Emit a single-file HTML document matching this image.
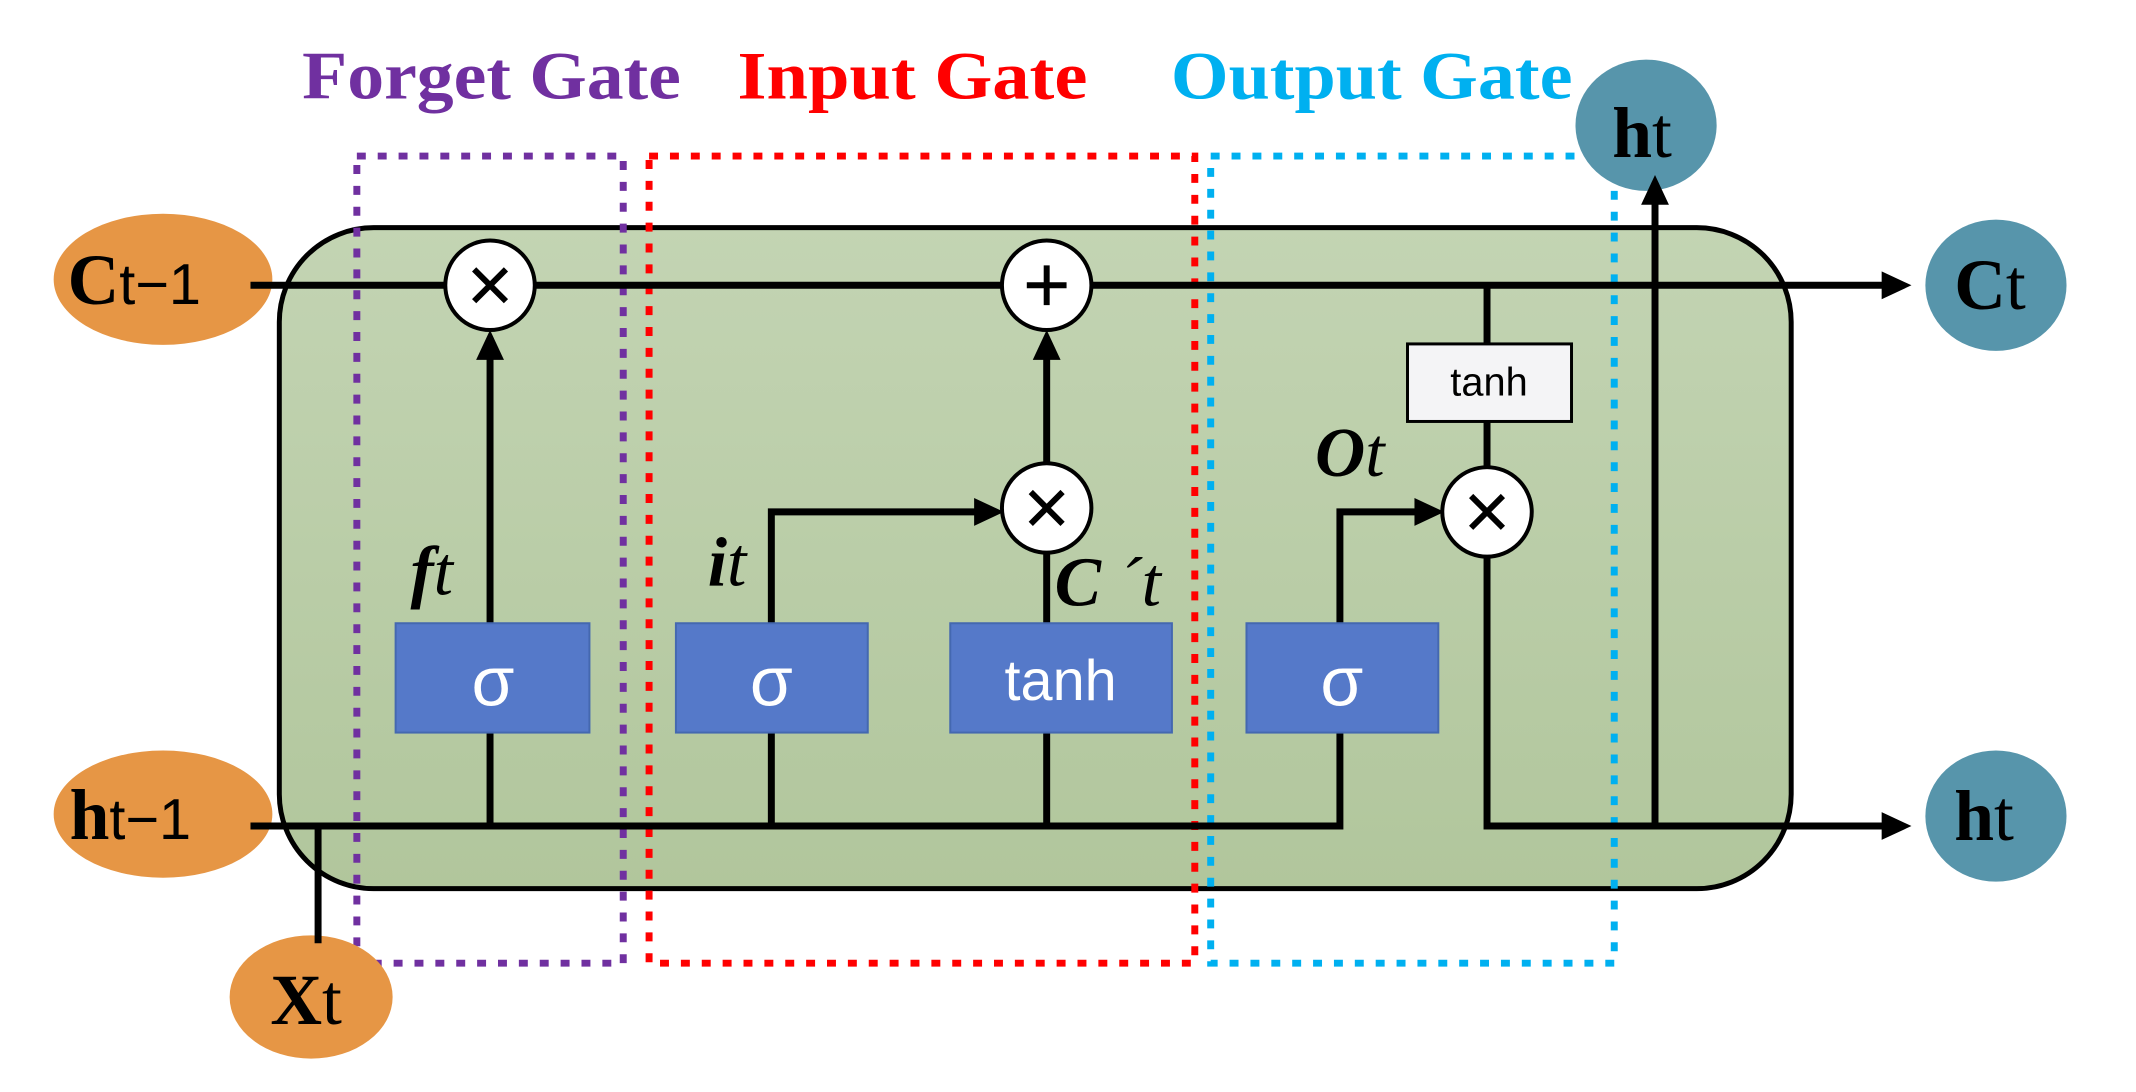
<!DOCTYPE html>
<html><head><meta charset="utf-8"><style>
html,body{margin:0;padding:0;background:#fff;width:2136px;height:1092px;overflow:hidden}
svg{display:block}
.t{font-family:"Liberation Serif",serif;font-weight:bold}
.s{font-family:"Liberation Sans",sans-serif}
</style></head><body>
<svg width="2136" height="1092" viewBox="0 0 2136 1092" xmlns="http://www.w3.org/2000/svg">
<defs>
<linearGradient id="g" x1="0" y1="0" x2="0" y2="1"><stop offset="0" stop-color="#c3d4b3"/><stop offset="1" stop-color="#b1c69c"/></linearGradient>
</defs>
<g transform="scale(0.994)">
<!-- titles -->
<text x="304" y="99" class="t" font-size="68" fill="#7030a0" textLength="381" lengthAdjust="spacingAndGlyphs">Forget Gate</text>
<text x="742" y="99" class="t" font-size="68" fill="#ff0000" textLength="352" lengthAdjust="spacingAndGlyphs">Input Gate</text>
<text x="1178" y="99" class="t" font-size="68" fill="#00b0f0" textLength="404" lengthAdjust="spacingAndGlyphs">Output Gate</text>
<!-- main box -->
<rect x="281" y="229" width="1521" height="665" rx="95" fill="url(#g)" stroke="#000" stroke-width="5"/>
<!-- gate boxes -->
<rect x="359" y="157" width="268" height="812" fill="none" stroke="#7030a0" stroke-width="7" stroke-dasharray="9 12"/>
<rect x="653" y="157" width="549" height="812" fill="none" stroke="#ff0000" stroke-width="7" stroke-dasharray="9 12"/>
<rect x="1218" y="157" width="406" height="812" fill="none" stroke="#00b0f0" stroke-width="7" stroke-dasharray="9 12"/>
<!-- inputs -->
<ellipse cx="164" cy="281" rx="110" ry="66" fill="#e69645"/>
<ellipse cx="164" cy="819" rx="110" ry="64" fill="#e69645"/>
<ellipse cx="313" cy="1003" rx="82" ry="62" fill="#e69645"/>
<!-- outputs -->
<ellipse cx="1656" cy="126" rx="71" ry="66" fill="#5795ab"/>
<ellipse cx="2008" cy="287" rx="71" ry="66" fill="#5795ab"/>
<ellipse cx="2008" cy="821" rx="71" ry="66" fill="#5795ab"/>
<!-- lines -->
<g stroke="#000" stroke-width="7" fill="none">
<line x1="252" y1="287" x2="1900" y2="287"/>
<polyline points="252,831 1348,831 1348,737"/>
<line x1="320" y1="831" x2="320" y2="949"/>
<line x1="493" y1="627" x2="493" y2="360"/>
<line x1="493" y1="831" x2="493" y2="737"/>
<line x1="776" y1="831" x2="776" y2="737"/>
<polyline points="776,627 776,515 985,515"/>
<line x1="1053" y1="831" x2="1053" y2="737"/>
<line x1="1053" y1="627" x2="1053" y2="555"/>
<line x1="1053" y1="465" x2="1053" y2="360"/>
<polyline points="1348,627 1348,515 1440,515"/>
<line x1="1496" y1="287" x2="1496" y2="346"/>
<line x1="1496" y1="424" x2="1496" y2="470"/>
<polyline points="1496,560 1496,831 1900,831"/>
<line x1="1665" y1="831" x2="1665" y2="200"/>
</g>
<g fill="#000">
<path d="M493,332 l-14,30 h28z"/>
<path d="M1053,332 l-14,30 h28z"/>
<path d="M980,501 l30,14 l-30,14z"/>
<path d="M1423,501 l30,14 l-30,14z"/>
<path d="M1665,176 l-14,30 h28z"/>
<path d="M1893,273 l30,14 l-30,14z"/>
<path d="M1893,817 l30,14 l-30,14z"/>
</g>
<!-- circles -->
<g fill="#fff" stroke="#000" stroke-width="4">
<circle cx="493" cy="287" r="45"/>
<circle cx="1053" cy="287" r="45"/>
<circle cx="1053" cy="511" r="45"/>
<circle cx="1496" cy="515" r="45"/>
</g>
<g stroke="#000" stroke-width="6">
<path d="M477,271 l32,32 M509,271 l-32,32"/>
<path d="M1037,495 l32,32 M1069,495 l-32,32"/>
<path d="M1480,499 l32,32 M1512,499 l-32,32"/>
<path d="M1033,287 h40 M1053,267 v40"/>
</g>
<!-- sigma boxes -->
<g fill="#5579c9" stroke="#4468b0" stroke-width="2">
<rect x="398" y="627" width="195" height="110"/>
<rect x="680" y="627" width="193" height="110"/>
<rect x="956" y="627" width="223" height="110"/>
<rect x="1254" y="627" width="193" height="110"/>
</g>
<g class="s" fill="#fff" font-size="70" text-anchor="middle">
<text x="496" y="710">σ</text>
<text x="776" y="710">σ</text>
<text x="1067" y="704" font-size="58">tanh</text>
<text x="1350" y="710">σ</text>
</g>
<rect x="1416" y="346" width="165" height="78" fill="#f4f4f6" stroke="#000" stroke-width="3"/>
<text x="1498" y="398" class="s" font-size="40" text-anchor="middle" fill="#000">tanh</text>
<!-- labels -->
<g font-family="Liberation Serif,serif" font-style="italic" font-weight="bold" fill="#000">
<text x="413" y="598" font-size="70">f<tspan font-weight="normal">t</tspan></text>
<text x="712" y="589" font-size="70">i<tspan font-weight="normal">t</tspan></text>
<text x="1061" y="609" font-size="70">C<tspan font-weight="normal"> ´t</tspan></text>
<text x="1323" y="479" font-size="70">O<tspan font-weight="normal">t</tspan></text>
</g>
<g font-family="Liberation Serif,serif" fill="#000" font-size="72">
<text x="68" y="306"><tspan font-weight="bold">C</tspan><tspan font-family="Liberation Sans,sans-serif" font-size="58">t−1</tspan></text>
<text x="70" y="844"><tspan font-weight="bold">h</tspan><tspan font-family="Liberation Sans,sans-serif" font-size="58">t−1</tspan></text>
<text x="272" y="1030"><tspan font-weight="bold">X</tspan>t</text>
<text x="1622" y="158"><tspan font-weight="bold">h</tspan>t</text>
<text x="1966" y="311"><tspan font-weight="bold">C</tspan>t</text>
<text x="1966" y="845"><tspan font-weight="bold">h</tspan>t</text>
</g>
</g>
</svg>
</body></html>
